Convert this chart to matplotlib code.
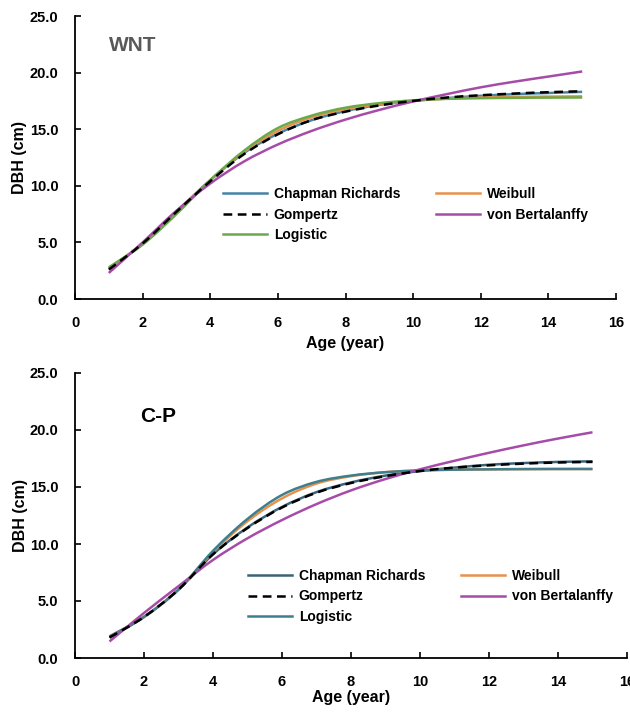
import numpy as np
import matplotlib
matplotlib.use("Agg")
import matplotlib.pyplot as plt
from matplotlib.ticker import FormatStrFormatter
from matplotlib.path import Path
from matplotlib.patches import PathPatch
from matplotlib.lines import Line2D

plt.rcParams['font.family'] = ['Liberation Sans', 'DejaVu Sans']

# -------------------------
# Data (DBH in cm)
# -------------------------
age = [1, 2, 3, 4, 5, 6, 7, 8, 9, 10, 11, 12, 13, 14, 15]

# WNT
wnt_chapman = [2.7, 4.9, 7.7, 10.5, 12.9, 14.6, 15.8, 16.6, 17.15, 17.5, 17.75, 17.95, 18.1, 18.2, 18.3]
wnt_weibull = [2.7, 4.9, 7.7, 10.5, 13.0, 14.85, 16.05, 16.75, 17.2, 17.5, 17.7, 17.8, 17.85, 17.88, 17.9]
wnt_gompertz = [2.6, 4.9, 7.7, 10.4, 12.8, 14.55, 15.8, 16.55, 17.1, 17.5, 17.8, 18.0, 18.15, 18.27, 18.35]
wnt_bertalanffy = [2.3, 5.0, 7.8, 10.2, 12.15, 13.65, 14.85, 15.85, 16.7, 17.45, 18.1, 18.7, 19.2, 19.65, 20.1]
wnt_logistic = [2.8, 4.8, 7.5, 10.5, 13.1, 15.1, 16.2, 16.9, 17.3, 17.55, 17.68, 17.74, 17.77, 17.79, 17.8]

# C-P
cp_chapman = [1.9, 3.6, 6.0, 9.1, 11.45, 13.25, 14.55, 15.4, 16.0, 16.4, 16.7, 16.95, 17.1, 17.2, 17.25]
cp_weibull = [1.8, 3.6, 6.0, 9.3, 12.0, 14.0, 15.3, 15.95, 16.3, 16.45, 16.52, 16.55, 16.57, 16.58, 16.58]
cp_gompertz = [1.8, 3.6, 6.0, 9.1, 11.4, 13.2, 14.5, 15.35, 15.95, 16.4, 16.7, 16.9, 17.05, 17.15, 17.2]
cp_bertalanffy = [1.45, 3.95, 6.3, 8.6, 10.5, 12.1, 13.5, 14.7, 15.7, 16.55, 17.3, 18.0, 18.65, 19.25, 19.8]
cp_logistic = [1.8, 3.6, 6.0, 9.4, 12.2, 14.3, 15.45, 16.0, 16.3, 16.45, 16.52, 16.55, 16.57, 16.58, 16.58]

fig = plt.figure(figsize=(6.3, 7.14), dpi=100)
ax1 = fig.add_axes([75/630, 1-299/714, 541/630, 283/714])
ax2 = fig.add_axes([75/630, 1-658/714, 552/630, 285/714])

TICK_FS = 10.5
LEG_FS = 10
LW = 1.8
DASH = (0, (3.5, 2.2))


def smooth_line(ax, x, y, color, ls='-', label=None):
    # Excel-style "smoothed line": bezier segments through the points
    p = np.column_stack([x, y]).astype(float)
    verts = [p[0]]
    codes = [Path.MOVETO]
    n = len(p)
    for i in range(n - 1):
        p0 = p[max(i - 1, 0)]
        p1 = p[i]
        p2 = p[i + 1]
        p3 = p[min(i + 2, n - 1)]
        c1 = p1 + (p2 - p0) / 6.0
        c2 = p2 - (p3 - p1) / 6.0
        verts += [c1, c2, p2]
        codes += [Path.CURVE4] * 3
    patch = PathPatch(Path(verts, codes), fill=False, edgecolor=color,
                      lw=LW, linestyle=ls, capstyle='butt')
    ax.add_patch(patch)
    return Line2D([], [], color=color, lw=LW, linestyle=ls, label=label)


def style_axes(ax, ylab_x, xlab_y):
    ax.set_xlim(0, 16)
    ax.set_ylim(0, 25)
    ax.set_xticks(range(0, 17, 2))
    ax.set_yticks(np.arange(0, 26, 5))
    ax.yaxis.set_major_formatter(FormatStrFormatter('%.1f'))
    for s in ['top', 'right']:
        ax.spines[s].set_visible(False)
    for s in ['left', 'bottom']:
        ax.spines[s].set_linewidth(1.3)
    ax.tick_params(direction='in', length=4, width=1.2, labelsize=TICK_FS)
    ax.tick_params(axis='y', pad=12)
    ax.tick_params(axis='x', pad=12)
    for lab in ax.get_xticklabels() + ax.get_yticklabels():
        lab.set_fontweight('bold')
    ax.set_xlabel('Age (year)', fontsize=11.5, fontweight='bold')
    ax.set_ylabel('DBH (cm)', fontsize=11.5, fontweight='bold')
    ax.yaxis.set_label_coords(ylab_x, 0.5)
    ax.xaxis.set_label_coords(0.5, xlab_y)


def add_legends(ax, lines, x1, x2, y):
    kw = dict(loc='upper left', frameon=False, borderpad=0, borderaxespad=0,
              handlelength=3.2, handletextpad=0.45, labelspacing=0.48,
              prop={'size': LEG_FS, 'weight': 'bold'})
    leg1 = ax.legend(handles=lines[:3], bbox_to_anchor=(x1, y), **kw)
    ax.add_artist(leg1)
    ax.legend(handles=lines[3:], bbox_to_anchor=(x2, y), **kw)


# -------------------------
# WNT panel
# -------------------------
h_cr = smooth_line(ax1, age, wnt_chapman, '#4682A8', label='Chapman Richards')
h_wb = smooth_line(ax1, age, wnt_weibull, '#E8914A', label='Weibull')
h_lg = smooth_line(ax1, age, wnt_logistic, '#6AAA4A', label='Logistic')
h_vb = smooth_line(ax1, age, wnt_bertalanffy, '#A64CA8', label='von Bertalanffy')
h_gz = smooth_line(ax1, age, wnt_gompertz, 'black', ls=DASH, label='Gompertz')
style_axes(ax1, -0.088, -0.13)
add_legends(ax1, [h_cr, h_gz, h_lg, h_wb, h_vb], 0.2736, 0.667, 0.396)
ax1.text(1.0, 22.4, 'WNT', fontsize=15, fontweight='bold', color='#595959', va='center')

# -------------------------
# C-P panel
# -------------------------
g_cr = smooth_line(ax2, age, cp_chapman, '#3B6478', label='Chapman Richards')
g_wb = smooth_line(ax2, age, cp_weibull, '#E8914A', label='Weibull')
g_lg = smooth_line(ax2, age, cp_logistic, '#3F7E8C', label='Logistic')
g_vb = smooth_line(ax2, age, cp_bertalanffy, '#A64CA8', label='von Bertalanffy')
g_gz = smooth_line(ax2, age, cp_gompertz, 'black', ls=DASH, label='Gompertz')
style_axes(ax2, -0.086, -0.113)
add_legends(ax2, [g_cr, g_gz, g_lg, g_wb, g_vb], 0.3134, 0.699, 0.313)
ax2.text(1.9, 21.2, 'C-P', fontsize=15, fontweight='bold', color='black', va='center')

fig.savefig('out.png', dpi=100)
